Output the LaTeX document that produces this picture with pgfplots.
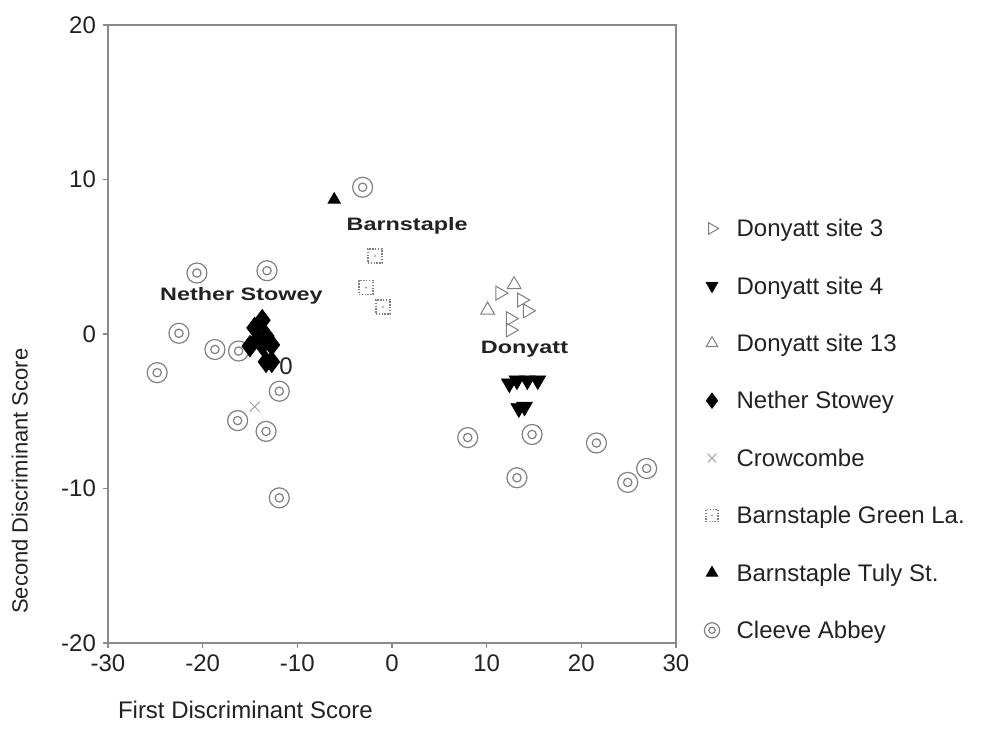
\documentclass[border=0pt]{standalone}
\usepackage{pgfplots}
\pgfplotsset{compat=1.18}
\usepackage{fontspec}
\setmainfont{Liberation Sans}
\newfontfamily\lblfont[FakeStretch=1.3]{Liberation Sans}
\usetikzlibrary{plotmarks}
\definecolor{axgray}{HTML}{8A8A8A}
\definecolor{mkgray}{HTML}{808080}
\definecolor{txt}{HTML}{222222}
\pgfdeclareplotmark{dcirc}{%
  \pgfpathcircle{\pgfpointorigin}{\pgfplotmarksize}%
  \pgfusepathqstroke
  \pgfpathcircle{\pgfpointorigin}{0.42\pgfplotmarksize}%
  \pgfusepathqstroke}
\pgfdeclareplotmark{dsq}{%
  \pgfsetdash{{0.7pt}{0.7pt}}{0pt}%
  \pgfpathrectangle{\pgfpoint{-\pgfplotmarksize}{-\pgfplotmarksize}}{\pgfpoint{2\pgfplotmarksize}{2\pgfplotmarksize}}%
  \pgfusepathqstroke
  \pgfsetdash{}{0pt}%
  \pgfpathcircle{\pgfpointorigin}{0.45pt}%
  \pgfusepathqfill}
\begin{document}
\begin{tikzpicture}
\begin{axis}[
  scale only axis, width=284pt, height=309pt,
  xmin=-30, xmax=30, ymin=-20, ymax=20,
  xtick={-30,-20,...,30}, ytick={-20,-10,...,20},
  tick align=outside, xtick pos=bottom, ytick pos=left,
  major tick length=2.5pt,
  axis line style={draw=axgray, line width=0.6pt},
  tick style={draw=axgray, line width=0.6pt},
  tick label style={font=\fontsize{12}{14}\selectfont, text=txt},
  /pgf/number format/assume math mode=true,
  clip=false,
  xlabel={First Discriminant Score},
  ylabel={Second Discriminant Score},
  xlabel style={at={(rel axis cs:0.0053,-0.108)}, anchor=west, font=\fontsize{12}{14}\selectfont, text=txt},
  ylabel style={at={(rel axis cs:-0.155,0.262)}, anchor=center, font=\fontsize{11}{13}\selectfont, text=txt},
  legend cell align=left,
  legend image code/.code={\draw[#1] plot coordinates {(0.3cm,1pt)};},
  legend style={at={(rel axis cs:1.0493,0.686)}, anchor=north west, draw=none, fill=none,
    inner sep=0pt, row sep=17.7pt, column sep=8.5pt,
    nodes={inner sep=0pt, text height=8.6pt, text depth=2.4pt, font=\fontsize{12}{14}\selectfont, text=txt}},
]
\addplot[only marks, mark=dcirc, mark size=5pt, mark options={draw=mkgray, line width=0.6pt}, forget plot]
  coordinates {(-3.1,9.5) (-20.6,3.95) (-13.2,4.1) (-22.5,0.05) (-24.8,-2.5) (-18.7,-1.0) (-16.2,-1.1) (-11.9,-3.7) (-16.3,-5.6) (-13.3,-6.3) (-11.9,-10.6) (8.0,-6.7) (14.8,-6.5) (13.2,-9.3) (21.6,-7.05) (24.9,-9.6) (26.9,-8.7)};
\addplot[only marks, mark=triangle, mark size=4pt, mark options={rotate=-90, draw=mkgray, line width=0.5pt}, forget plot]
  coordinates {(11.4,2.65) (13.7,2.2) (14.3,1.5) (12.5,1.0) (12.5,0.26)};
\addplot[only marks, mark=triangle*, mark size=4.5pt, mark options={rotate=180, draw=black, fill=black}, forget plot]
  coordinates {(12.4,-3.2) (13.2,-3.0) (14.3,-3.0) (15.4,-3.0) (13.4,-4.8) (14.0,-4.7)};
\addplot[only marks, mark=triangle, mark size=4pt, mark options={draw=mkgray, line width=0.5pt}, forget plot]
  coordinates {(12.9,3.2) (10.1,1.55)};
\addplot[only marks, mark=diamond*, mark size=5.3pt, mark options={draw=black, fill=black}, forget plot]
  coordinates {(-13.7,0.9) (-14.5,0.4) (-14.1,-0.26) (-15.0,-0.78) (-13.7,-0.7) (-12.7,-0.7) (-13.3,-0.13) (-13.3,-1.8) (-12.7,-1.8)};
\addplot[only marks, mark=x, mark size=3.5pt, mark options={draw=gray!70, line width=0.5pt}, forget plot]
  coordinates {(-14.5,-4.7)};
\addplot[only marks, mark=dsq, mark size=3.5pt, mark options={draw=mkgray, fill=mkgray, line width=0.6pt}, forget plot]
  coordinates {(-1.8,5.05) (-2.75,3.0) (-0.95,1.75)};
\addplot[only marks, mark=triangle*, mark size=3.5pt, mark options={draw=black, fill=black}, forget plot]
  coordinates {(-6.1,8.7)};
\addlegendimage{only marks, mark=triangle, mark size=3.3pt, mark options={rotate=-90, draw=mkgray, line width=0.5pt}}
\addlegendentry{Donyatt site 3}
\addlegendimage{only marks, mark=triangle*, mark size=3.3pt, mark options={rotate=180, draw=black, fill=black}}
\addlegendentry{Donyatt site 4}
\addlegendimage{only marks, mark=triangle, mark size=3.3pt, mark options={draw=mkgray, line width=0.5pt}}
\addlegendentry{Donyatt site 13}
\addlegendimage{only marks, mark=diamond*, mark size=3.8pt, mark options={draw=black, fill=black}}
\addlegendentry{Nether Stowey}
\addlegendimage{only marks, mark=x, mark size=3pt, mark options={draw=gray!70, line width=0.5pt}}
\addlegendentry{Crowcombe}
\addlegendimage{only marks, mark=dsq, mark size=3pt, mark options={draw=mkgray, fill=mkgray, line width=0.6pt}}
\addlegendentry{Barnstaple Green La.}
\addlegendimage{only marks, mark=triangle*, mark size=3.3pt, mark options={draw=black, fill=black}}
\addlegendentry{Barnstaple Tuly St.}
\addlegendimage{only marks, mark=dcirc, mark size=3.8pt, mark options={draw=mkgray, line width=0.6pt}}
\addlegendentry{Cleeve Abbey}
\node[font=\lblfont\bfseries\fontsize{9}{10}\selectfont, text=txt] at (axis cs:1.6,7.0) {Barnstaple};
\node[font=\lblfont\bfseries\fontsize{9}{10}\selectfont, text=txt] at (axis cs:-15.9,2.5) {Nether Stowey};
\node[font=\lblfont\bfseries\fontsize{9}{10}\selectfont, text=txt] at (axis cs:14.0,-0.97) {Donyatt};
\node[font=\fontsize{12}{14}\selectfont, text=txt] at (axis cs:-11.2,-2.1) {0};
\path (rel axis cs:-0.19,-0.16) rectangle (rel axis cs:1.5475,1.0405);
\end{axis}
\end{tikzpicture}
\end{document}
